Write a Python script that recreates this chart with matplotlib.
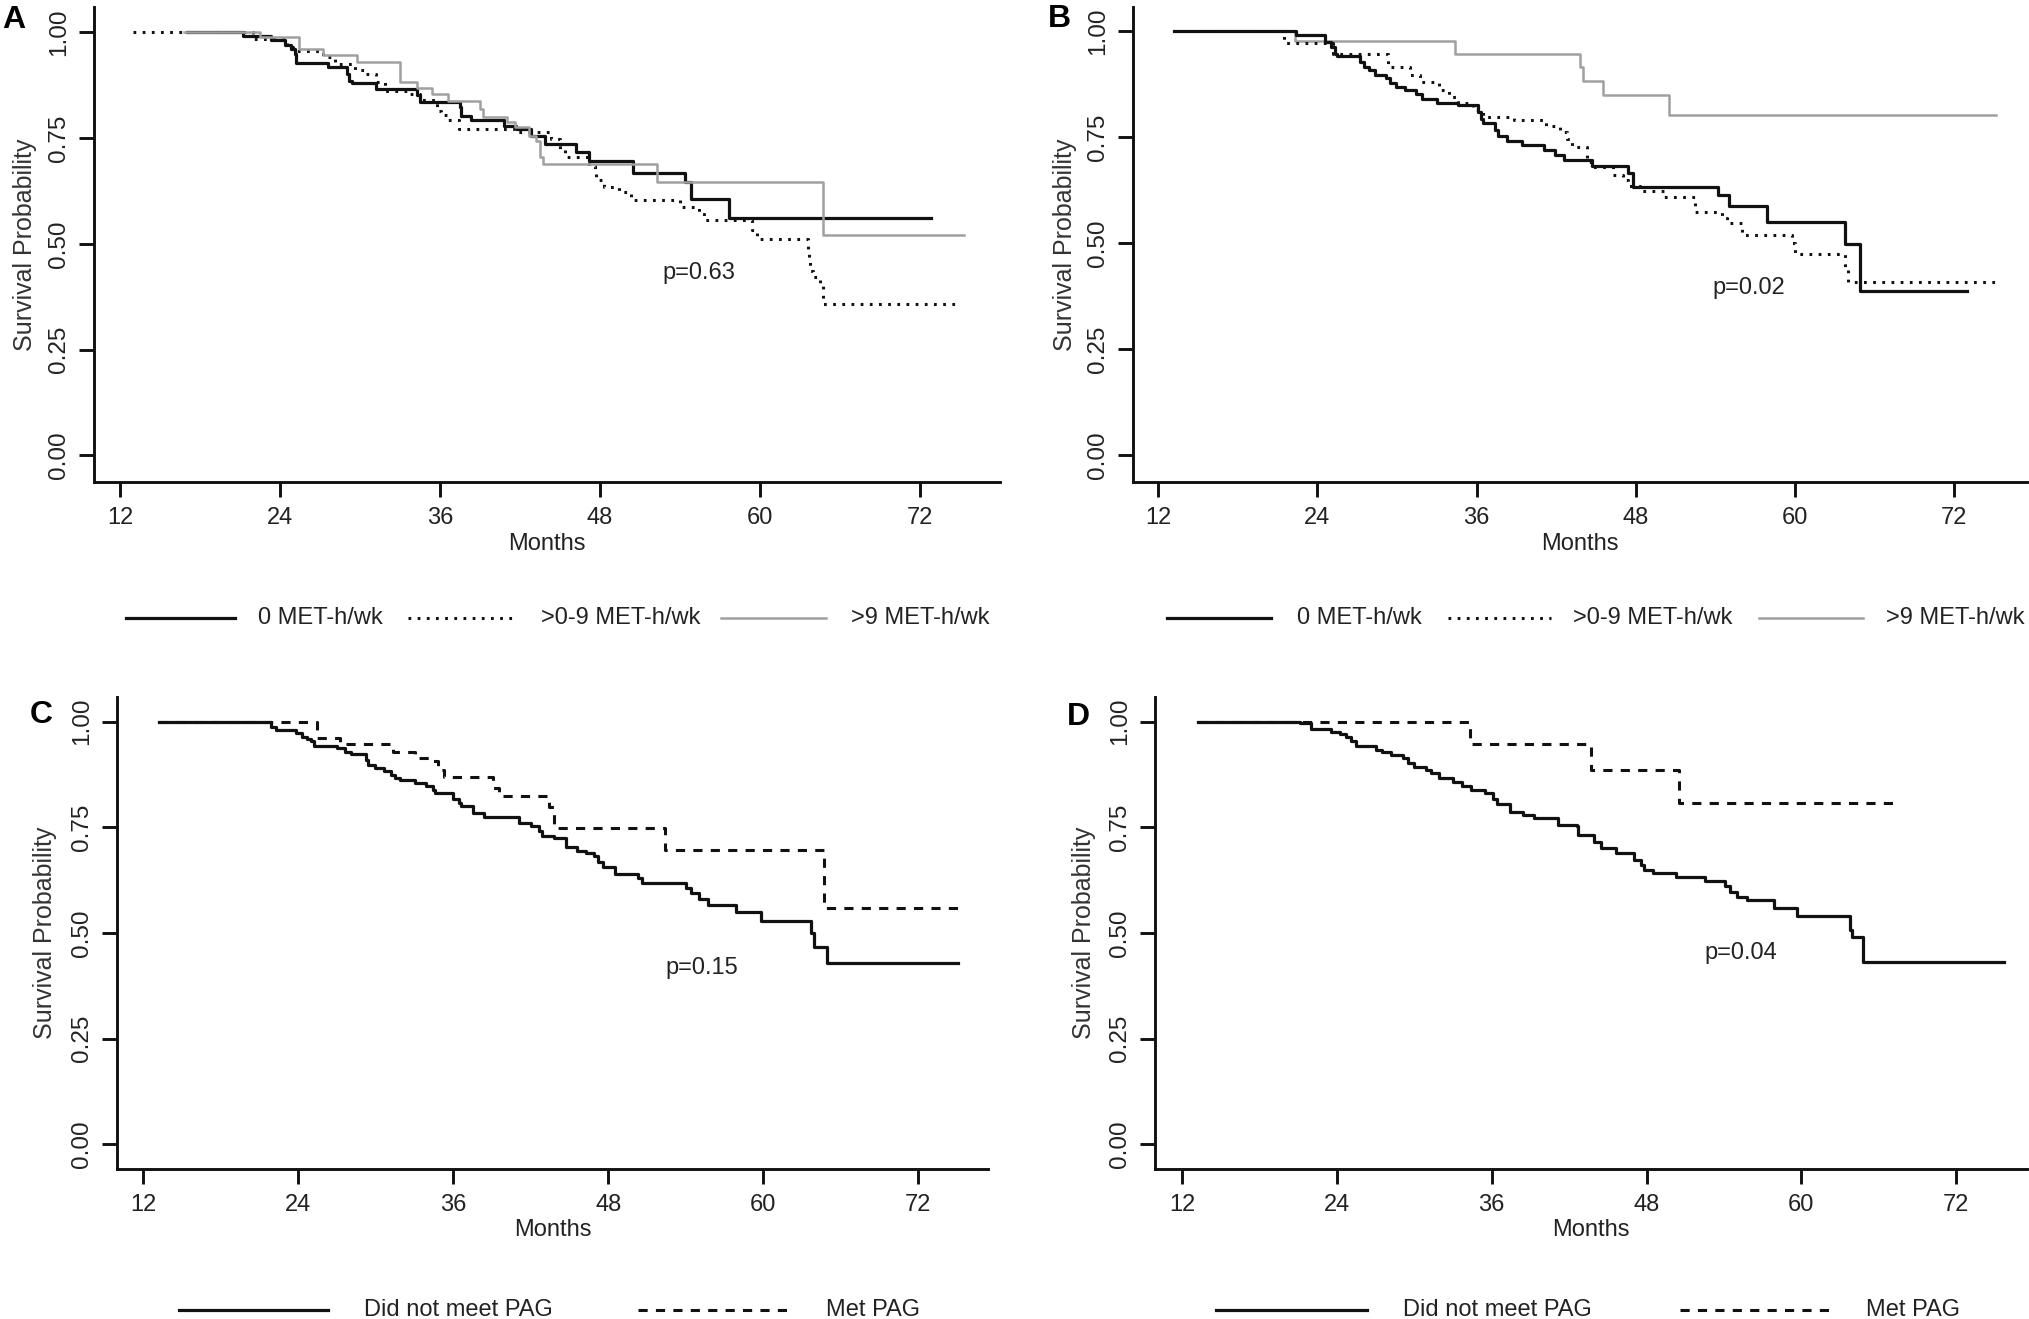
import matplotlib
matplotlib.use("Agg")
import matplotlib.pyplot as plt
from matplotlib.lines import Line2D

plt.rcParams["font.family"] = ["Liberation Sans", "DejaVu Sans"]

W, H = 2029, 1319

# x / y ticks shared by all panels
x_ticks = [12, 24, 36, 48, 60, 72]
y_ticks = [0.0, 0.25, 0.50, 0.75, 1.00]
y_ticklabels = ["0.00", "0.25", "0.50", "0.75", "1.00"]

# ---- panel A: MET-h/wk groups ----
a_none_t = [17.0, 21.2, 23.3, 24.4, 24.8, 25.1, 25.2, 27.6, 29.0, 29.2, 29.4, 31.2, 34.3, 34.5,
            37.5, 37.6, 38.3, 40.8, 41.7, 42.8, 43.9, 46.2, 47.2, 50.5, 54.4, 54.8, 57.7, 72.8]
a_none_s = [1.0, 0.991, 0.981, 0.969, 0.961, 0.949, 0.927, 0.919, 0.902, 0.886, 0.880, 0.866, 0.851, 0.835,
            0.823, 0.803, 0.792, 0.778, 0.772, 0.756, 0.737, 0.717, 0.696, 0.667, 0.646, 0.605, 0.560, 0.560]
a_low_t = [13.0, 22.0, 24.5, 25.0, 27.2, 28.1, 29.6, 30.3, 31.2, 31.9, 33.6, 34.5, 35.8, 36.1, 36.5,
           37.4, 41.6, 44.3, 45.0, 45.4, 47.2, 47.6, 47.7, 48.3, 49.4, 50.3, 54.0, 55.4, 55.8, 59.4,
           59.8, 63.6, 63.7, 63.75, 64.0, 64.5, 64.7, 74.8]
a_low_s = [1.0, 0.985, 0.965, 0.957, 0.941, 0.925, 0.911, 0.902, 0.882, 0.861, 0.855, 0.839, 0.815, 0.804, 0.792,
           0.772, 0.764, 0.748, 0.725, 0.705, 0.685, 0.666, 0.650, 0.634, 0.622, 0.603, 0.587, 0.570, 0.556, 0.532,
           0.512, 0.484, 0.461, 0.437, 0.422, 0.402, 0.359, 0.359]
a_high_t = [16.8, 22.5, 25.4, 27.2, 29.8, 33.0, 34.3, 35.4, 36.6, 39.0, 39.2, 41.0, 41.6, 42.7, 43.2,
            43.5, 43.75, 52.3, 64.7, 75.3]
a_high_s = [1.0, 0.99, 0.961, 0.947, 0.931, 0.882, 0.868, 0.855, 0.837, 0.819, 0.801, 0.788, 0.776, 0.756, 0.744,
            0.705, 0.688, 0.646, 0.520, 0.520]

# ---- panel B ----
b_none_t = [13.2, 22.4, 24.6, 25.0, 25.3, 25.5, 27.2, 27.5, 27.9, 28.3, 29.2, 29.5, 29.9, 30.6, 31.4, 31.9,
            33.0, 34.6, 36.1, 36.3, 36.5, 37.4, 37.6, 38.3, 39.4, 41.1, 41.9, 42.6, 44.7, 47.4, 47.8, 54.2,
            55.0, 57.9, 63.8, 64.9, 73.0]
b_none_s = [1.0, 0.990, 0.974, 0.962, 0.946, 0.940, 0.927, 0.915, 0.907, 0.895, 0.888, 0.876, 0.868, 0.860, 0.852, 0.840,
            0.830, 0.825, 0.809, 0.793, 0.782, 0.766, 0.752, 0.741, 0.731, 0.719, 0.707, 0.695, 0.682, 0.664, 0.632, 0.613,
            0.588, 0.549, 0.497, 0.387, 0.387]
b_low_t = [15.7, 21.5, 25.2, 29.35, 31.0, 31.7, 33.2, 33.9, 34.6, 35.7, 36.5, 38.8, 41.2, 42.3, 42.85, 43.2,
           44.3, 44.7, 46.3, 47.0, 47.4, 48.3, 50.1, 52.5, 54.5, 54.9, 56.0, 59.8, 60.0, 63.8, 64.0, 75.1]
b_low_s = [1.0, 0.972, 0.946, 0.915, 0.895, 0.880, 0.860, 0.844, 0.829, 0.813, 0.797, 0.789, 0.775, 0.762, 0.746, 0.727,
           0.691, 0.680, 0.660, 0.648, 0.635, 0.623, 0.609, 0.573, 0.558, 0.546, 0.518, 0.499, 0.475, 0.444, 0.409, 0.409]
b_high_t = [13.2, 22.3, 34.4, 43.8, 44.05, 45.5, 50.5, 75.2]
b_high_s = [1.0, 0.975, 0.946, 0.915, 0.881, 0.848, 0.802, 0.802]

# ---- panel C: PAG ----
c_not_t = [13.2, 21.9, 22.3, 23.8, 24.3, 24.7, 25.0, 25.2, 27.0, 27.6, 28.1, 29.2, 29.4, 29.9, 30.6, 31.2, 31.5,
           31.9, 33.0, 33.9, 34.4, 34.6, 36.0, 36.4, 36.6, 37.5, 38.4, 41.1, 42.0, 42.6, 42.9, 43.8, 44.7, 45.6,
           46.3, 46.9, 47.2, 47.6, 48.5, 50.3, 50.6, 54.0, 54.4, 55.0, 55.7, 57.85, 59.8, 63.7, 63.9, 64.9, 75.1]
c_not_s = [1.0, 0.988, 0.980, 0.972, 0.964, 0.958, 0.953, 0.942, 0.937, 0.929, 0.923, 0.909, 0.897, 0.890, 0.882, 0.874, 0.866,
           0.862, 0.854, 0.848, 0.838, 0.830, 0.816, 0.807, 0.800, 0.783, 0.774, 0.761, 0.753, 0.740, 0.730, 0.724, 0.704, 0.695,
           0.689, 0.681, 0.669, 0.657, 0.640, 0.629, 0.619, 0.606, 0.595, 0.580, 0.566, 0.550, 0.529, 0.499, 0.466, 0.428, 0.428]
c_met_t = [13.2, 25.4, 27.2, 31.35, 33.0, 34.1, 34.8, 35.3, 39.1, 39.5, 43.4, 43.8, 52.4, 64.7, 75.1]
c_met_s = [1.0, 0.962, 0.946, 0.929, 0.913, 0.907, 0.886, 0.870, 0.842, 0.824, 0.799, 0.749, 0.696, 0.559, 0.559]

# ---- panel D ----
d_not_t = [13.2, 21.1, 22.0, 23.5, 24.2, 24.7, 25.1, 25.5, 27.0, 27.5, 28.2, 29.1, 29.5, 30.0, 30.9, 31.3, 31.9,
           33.0, 33.7, 34.4, 35.5, 36.1, 36.4, 37.4, 38.4, 39.3, 41.1, 42.6, 42.7, 43.9, 44.5, 45.6, 47.0, 47.6,
           47.8, 48.5, 50.3, 52.5, 54.1, 54.5, 55.0, 55.8, 57.9, 59.7, 63.8, 63.9, 64.8, 75.7]
d_not_s = [1.0, 0.996, 0.982, 0.976, 0.971, 0.963, 0.953, 0.941, 0.933, 0.927, 0.921, 0.913, 0.903, 0.893, 0.886, 0.878, 0.866,
           0.856, 0.848, 0.838, 0.830, 0.818, 0.805, 0.787, 0.779, 0.771, 0.756, 0.752, 0.732, 0.716, 0.700, 0.690, 0.673, 0.661,
           0.648, 0.643, 0.632, 0.622, 0.610, 0.598, 0.586, 0.577, 0.559, 0.540, 0.507, 0.490, 0.431, 0.431]
d_met_t = [13.2, 34.3, 43.7, 50.5, 67.5]
d_met_s = [1.0, 0.946, 0.886, 0.807, 0.807]

met_labels = ["0 MET-h/wk", ">0-9 MET-h/wk", ">9 MET-h/wk"]
pag_labels = ["Did not meet PAG", "Met PAG"]
p_values = ["p=0.63", "p=0.02", "p=0.15", "p=0.04"]

BLACK = "#111111"
GREY = "#a0a0a0"
TXT = "#222222"
FS = 17
solid = dict(color=BLACK, lw=2.3, linestyle="-")
dotted = dict(color=BLACK, lw=2.2, linestyle=(0, (0.9, 2.1)))
grey = dict(color=GREY, lw=1.8, linestyle="-")
dashed = dict(color=BLACK, lw=2.2, linestyle=(0, (3.0, 2.7)))

fig = plt.figure(figsize=(W / 100, H / 100), dpi=100)


def px_axes(left, right, top, bottom):
    return fig.add_axes([left / W, 1 - bottom / H, (right - left) / W, (bottom - top) / H])


def style_axes(ax, xlim, ylim, ylab_x):
    ax.set_xlim(*xlim)
    ax.set_ylim(*ylim)
    for s in ["top", "right"]:
        ax.spines[s].set_visible(False)
    for s in ["left", "bottom"]:
        ax.spines[s].set_linewidth(2.1)
        ax.spines[s].set_color(BLACK)
    ax.set_xticks(x_ticks)
    ax.set_yticks(y_ticks)
    ax.set_yticklabels(y_ticklabels, rotation=90, va="center")
    ax.tick_params(axis="both", length=11, width=2.1, color=BLACK, labelsize=FS, labelcolor=TXT)
    ax.tick_params(axis="x", pad=7)
    ax.tick_params(axis="y", pad=6, labelsize=17.5)
    ax.set_xlabel("Months", fontsize=FS, color=TXT)
    ax.xaxis.set_label_coords(0.5, -0.13)
    ax.xaxis.label.set_va("center")
    ax.set_ylabel("Survival Probability", fontsize=18, color="#333333")
    ax.yaxis.set_label_coords(ylab_x, 0.5)
    ax.yaxis.label.set_va("center")


def legend_item(x0, x1, y, style, label, tx):
    fig.add_artist(Line2D([x0 / W, x1 / W], [1 - y / H, 1 - y / H], transform=fig.transFigure, **style))
    fig.text(tx / W, 1 - y / H, label, fontsize=FS, color=TXT, ha="left", va="center")


# Panel A
ax = px_axes(94, 1000, 7, 482)
ax.step(a_none_t, a_none_s, where="post", **solid)
ax.step(a_low_t, a_low_s, where="post", **dotted)
ax.step(a_high_t, a_high_s, where="post", **grey)
style_axes(ax, (10.05, 78.0), (-0.063, 1.060), (25 - 94) / 906)
ax.text(55.4, 0.431, p_values[0], fontsize=FS, color=TXT, ha="center", va="center")
legend_item(126, 235, 618, solid, met_labels[0], 258)
legend_item(408, 512, 618, dotted, met_labels[1], 541)
legend_item(721, 826, 618, grey, met_labels[2], 851)
fig.text(14 / W, 1 - 20 / H, "A", fontsize=23, fontweight="bold", ha="center", va="center")

# Panel B
ax = px_axes(1133, 2027, 7, 482)
ax.step(b_high_t, b_high_s, where="post", **grey)
ax.step(b_low_t, b_low_s, where="post", **dotted)
ax.step(b_none_t, b_none_s, where="post", **solid)
style_axes(ax, (10.09, 77.5), (-0.063, 1.056), (1065 - 1133) / 894)
ax.text(56.5, 0.394, p_values[1], fontsize=FS, color=TXT, ha="center", va="center")
legend_item(1167, 1271, 618, solid, met_labels[0], 1297)
legend_item(1448, 1551, 618, dotted, met_labels[1], 1573)
legend_item(1759, 1863, 618, grey, met_labels[2], 1886)
fig.text(1059 / W, 1 - 19 / H, "B", fontsize=23, fontweight="bold", ha="center", va="center")

# Panel C
ax = px_axes(117, 988, 697, 1169)
ax.step(c_met_t, c_met_s, where="post", **dashed)
ax.step(c_not_t, c_not_s, where="post", **solid)
style_axes(ax, (9.95, 77.4), (-0.058, 1.058), (45 - 117) / 871)
ax.text(55.2, 0.417, p_values[2], fontsize=FS, color=TXT, ha="center", va="center")
legend_item(179, 328, 1310, solid, pag_labels[0], 364)
legend_item(638, 794, 1310, dashed, pag_labels[1], 826)
fig.text(41 / W, 1 - 715 / H, "C", fontsize=23, fontweight="bold", ha="center", va="center")

# Panel D
ax = px_axes(1155, 2027, 697, 1169)
ax.step(d_met_t, d_met_s, where="post", **dashed)
ax.step(d_not_t, d_not_s, where="post", **solid)
style_axes(ax, (9.89, 77.5), (-0.058, 1.058), (1084 - 1155) / 872)
ax.text(55.3, 0.453, p_values[3], fontsize=FS, color=TXT, ha="center", va="center")
legend_item(1216, 1367, 1310, solid, pag_labels[0], 1403)
legend_item(1680, 1834, 1310, dashed, pag_labels[1], 1866)
fig.text(1078 / W, 1 - 717 / H, "D", fontsize=23, fontweight="bold", ha="center", va="center")

fig.savefig("out.png", dpi=100, facecolor="white")
